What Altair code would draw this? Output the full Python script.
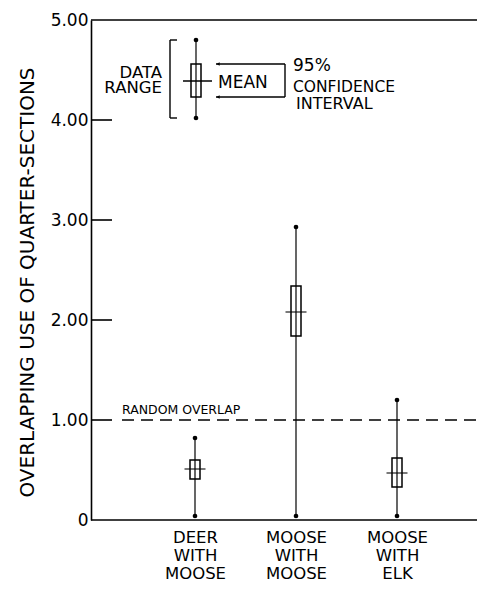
import altair as alt
import pandas as pd

# ---- data ----
categories = ["DEER WITH MOOSE", "MOOSE WITH MOOSE", "MOOSE WITH ELK"]
range_min = [0.04, 0.04, 0.04]
range_max = [0.82, 2.93, 1.20]
ci_low = [0.41, 1.84, 0.33]
ci_high = [0.60, 2.34, 0.62]
means = [0.51, 2.08, 0.47]

key_min, key_max = 4.02, 4.80
key_ci_low, key_ci_high = 4.23, 4.56
key_mean = 4.39
random_overlap = 1.0
y_tick_values = [0, 1, 2, 3, 4, 5]

FONT = "DejaVu Sans"
W, H = 386, 500

df = pd.DataFrame({
    "group": categories,
    "lo": range_min,
    "hi": range_max,
    "cl": ci_low,
    "ch": ci_high,
    "mean": means,
})
dots = pd.DataFrame({"group": categories * 2, "v": range_min + range_max})
ticks_df = pd.DataFrame({"v": y_tick_values[1:-1]})
key_dots = pd.DataFrame({"v": [key_min, key_max]})
one = pd.DataFrame({"k": [0]})

yscale = alt.Scale(domain=[0, 5], nice=False, zero=True)
xscale = alt.Scale(type="point", domain=categories, range=[104, 306], padding=0)

x_axis = alt.Axis(
    title=None, labelExpr="split(datum.label, ' ')", labelAngle=0,
    labelFontSize=16.5, labelLineHeight=18, labelBaseline="top", labelPadding=9,
    domain=False, ticks=False, grid=False, labelColor="black", labelFont=FONT,
)
y_axis = alt.Axis(
    title="OVERLAPPING USE OF QUARTER-SECTIONS", values=y_tick_values,
    labelExpr="datum.value == 0 ? '0' : format(datum.value, '.2f')",
    labelFontSize=17, labelPadding=3, labelColor="black", labelFont=FONT,
    ticks=False, grid=False, domain=True, domainColor="black", domainWidth=1.6,
    titleFontSize=20, titleFontWeight="normal", titleFont=FONT, titleColor="black",
    titleAngle=270, titleX=-64, titleY=262, titleAlign="center", titleBaseline="middle",
)


def X(field):
    return alt.X(field, scale=xscale, axis=x_axis)


def Y(field):
    return alt.Y(field, scale=yscale, axis=y_axis)


def YD(v):
    return alt.YDatum(v, scale=yscale, axis=y_axis)


base = alt.Chart(df)

whisk = base.mark_rule(color="black", strokeWidth=1.2).encode(
    x=X("group:N"), y=Y("lo:Q"), y2="hi:Q",
)
box = base.mark_bar(size=10, fillOpacity=0, stroke="black", strokeWidth=1.5).encode(
    x=X("group:N"), y=Y("cl:Q"), y2="ch:Q",
)
mean_tick = base.mark_tick(color="black", size=21, thickness=1.5).encode(
    x=X("group:N"), y=Y("mean:Q"),
)
end_dots = alt.Chart(dots).mark_circle(color="black", size=22, opacity=1).encode(
    x=X("group:N"), y=Y("v:Q"),
)

# frame lines and inward ticks
inner_ticks = alt.Chart(ticks_df).mark_rule(color="black", strokeWidth=1.6).encode(
    y=Y("v:Q"), x=alt.value(0), x2=alt.value(21)
)
top_line = alt.Chart(one).mark_rule(color="black", strokeWidth=1.6).encode(
    y=YD(5), x=alt.value(0), x2=alt.value(W)
)
bottom_line = alt.Chart(one).mark_rule(color="black", strokeWidth=1.6).encode(
    y=YD(0), x=alt.value(0), x2=alt.value(W)
)

# random overlap reference
rand_line = alt.Chart(one).mark_rule(color="black", strokeWidth=1.3, strokeDash=[12, 7]).encode(
    y=YD(random_overlap), x=alt.value(31), x2=alt.value(W)
)
rand_text = alt.Chart(one).mark_text(
    text="RANDOM OVERLAP", align="left", baseline="alphabetic", dy=-6,
    fontSize=12.5, font=FONT, color="black"
).encode(y=YD(random_overlap), x=alt.value(31))

# key (legend) box plot
KX = 105
k_whisk = alt.Chart(one).mark_rule(color="black", strokeWidth=1.2).encode(
    x=alt.value(KX), y=YD(key_min), y2=alt.Y2Datum(key_max)
)
k_box = alt.Chart(one).mark_rect(fillOpacity=0, stroke="black", strokeWidth=1.5).encode(
    x=alt.value(KX - 5), x2=alt.value(KX + 5),
    y=YD(key_ci_low), y2=alt.Y2Datum(key_ci_high)
)
k_mean = alt.Chart(one).mark_rule(color="black", strokeWidth=1.5).encode(
    x=alt.value(KX - 13), x2=alt.value(KX + 16), y=YD(key_mean)
)
k_dots = alt.Chart(key_dots).mark_circle(color="black", size=22, opacity=1).encode(
    x=alt.value(KX), y=Y("v:Q")
)
# data range bracket
br_v = alt.Chart(one).mark_rule(color="black", strokeWidth=1.4).encode(
    x=alt.value(79), y=YD(key_min), y2=alt.Y2Datum(key_max)
)
br_t = alt.Chart(one).mark_rule(color="black", strokeWidth=1.4).encode(
    x=alt.value(79), x2=alt.value(86), y=YD(key_max)
)
br_b = alt.Chart(one).mark_rule(color="black", strokeWidth=1.4).encode(
    x=alt.value(79), x2=alt.value(86), y=YD(key_min)
)
# confidence interval bracket
ci_t = alt.Chart(one).mark_rule(color="black", strokeWidth=1.4).encode(
    x=alt.value(125), x2=alt.value(194), y=YD(key_ci_high)
)
ci_b = alt.Chart(one).mark_rule(color="black", strokeWidth=1.4).encode(
    x=alt.value(125), x2=alt.value(194), y=YD(key_ci_low)
)
ci_v = alt.Chart(one).mark_rule(color="black", strokeWidth=1.4).encode(
    x=alt.value(194), y=YD(key_ci_low), y2=alt.Y2Datum(key_ci_high)
)
ci_arrows = alt.Chart(pd.DataFrame({"v": [key_ci_low, key_ci_high]})).mark_point(
    shape="triangle-left", filled=True, color="black", size=14, opacity=1
).encode(x=alt.value(127), y=Y("v:Q"))


def label(txt, x, y, align="left", size=17):
    return alt.Chart(one).mark_text(
        text=txt, align=align, baseline="middle", fontSize=size, font=FONT, color="black"
    ).encode(x=alt.value(x), y=alt.value(y))


texts = [
    label("DATA", 71, 53, "right", 16.5),
    label("RANGE", 71, 68, "right", 16.5),
    label("MEAN", 127, 63),
    label("95%", 202, 46),
    label("CONFIDENCE", 202, 67, size=15.5),
    label("INTERVAL", 205, 84, size=16),
]

chart = alt.layer(
    whisk, box, mean_tick, end_dots,
    inner_ticks, top_line, bottom_line, rand_line, rand_text,
    k_whisk, k_box, k_mean, k_dots, br_v, br_t, br_b, ci_t, ci_b, ci_v, ci_arrows,
    *texts,
).properties(
    width=W, height=H,
    padding={"left": 83, "top": 12, "right": 0, "bottom": 62},
    autosize=alt.AutoSizeParams(type="none"),
    background="white",
).configure_view(stroke=None)

chart.save("out.html", embed_options={"renderer": "svg", "actions": False})
